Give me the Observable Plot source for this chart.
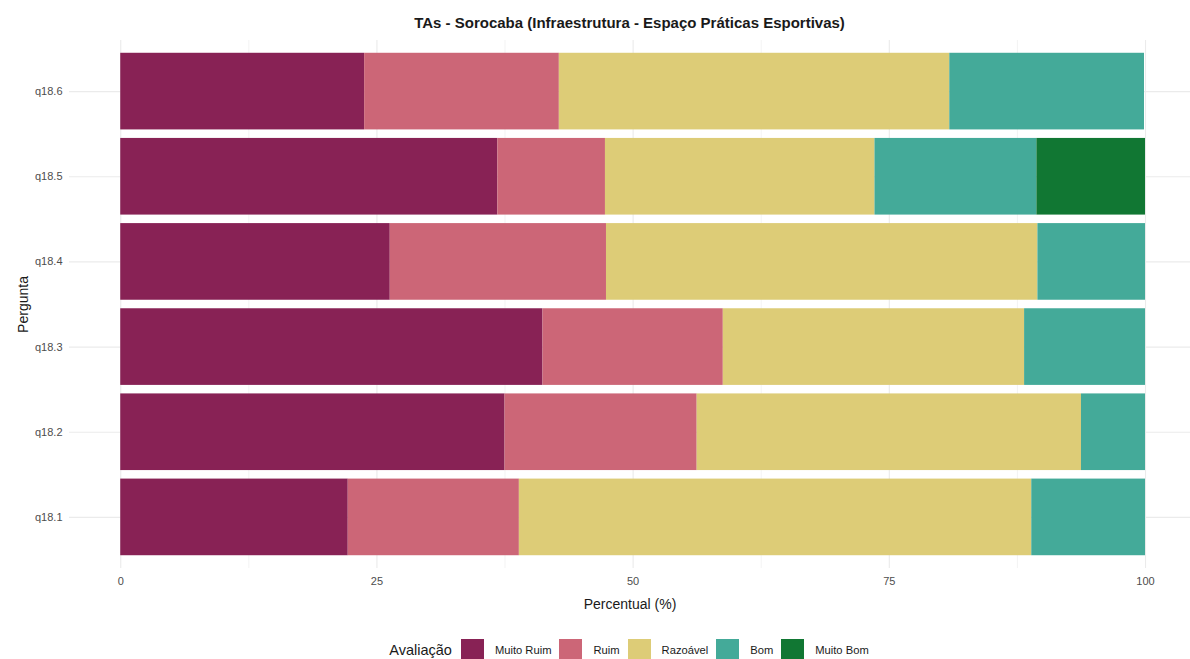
<!DOCTYPE html>
<html>
<head>
<meta charset="utf-8">
<script src="https://cdn.jsdelivr.net/npm/d3@7"></script>
<script src="https://cdn.jsdelivr.net/npm/@observablehq/plot@0.6"></script>
<style>
  html, body { margin:0; padding:0; background:#fff; overflow:hidden; }
  body { width:1190px; height:659px; font-family:"Liberation Sans", Arial, sans-serif; }
  #title { height:40px; box-sizing:border-box; padding-left:69px; text-align:center; font-weight:bold; font-size:15px; line-height:46px; color:#1a1a1a; }
  #chart svg { display:block; font-family:"Liberation Sans", Arial, sans-serif; }
  #chart g[aria-label="y-axis label"] text, #chart g[aria-label="x-axis label"] text { font-size:14px; fill:#1a1a1a; }
  #legend { display:flex; align-items:center; justify-content:center; padding-left:76px; height:74px; font-size:11.2px; color:#1a1a1a; }
  #legend .ttl { font-size:14.5px; margin-right:9px; }
  #legend .sw { width:23px; height:23px; margin-right:11px; }
  #legend .lb { margin-right:8px; }
</style>
</head>
<body>
<div id="title">TAs - Sorocaba (Infraestrutura - Espaço Práticas Esportivas)</div>
<div id="chart"></div>
<div id="legend"></div>
<script>
const perguntas = ["q18.1", "q18.2", "q18.3", "q18.4", "q18.5", "q18.6"];
const categorias = ["Muito Ruim", "Ruim", "Razoável", "Bom", "Muito Bom"];
const cores = ["#882255", "#CC6677", "#DDCC77", "#44AA99", "#117733"];
const muitoRuim = [22.2, 37.5, 41.2, 26.3, 36.8, 23.8];
const ruim      = [16.7, 18.75, 17.6, 21.1, 10.5, 19.0];
const razoavel  = [50.0, 37.5, 29.4, 42.1, 26.3, 38.1];
const bom       = [11.1, 6.25, 11.8, 10.5, 15.8, 19.0];
const muitoBom  = [0, 0, 0, 0, 10.6, 0];
const xTicks = [0, 25, 50, 75, 100];
const xMinor = [12.5, 37.5, 62.5, 87.5];

const series = [muitoRuim, ruim, razoavel, bom, muitoBom];
const data = [];
perguntas.forEach((p, i) => {
  categorias.forEach((c, j) => {
    if (series[j][i] > 0) data.push({pergunta: p, avaliacao: c, valor: series[j][i]});
  });
});

const grid = "#ebebeb";
const chart = Plot.plot({
  width: 1190,
  height: 573,
  marginTop: 0,
  marginLeft: 69,
  marginRight: 0,
  marginBottom: 45,
  style: {fontSize: "11px", fontFamily: "Liberation Sans, Arial, sans-serif"},
  x: {domain: [-5, 104.39], label: null},
  y: {domain: perguntas.slice().reverse(), paddingInner: 0.1, paddingOuter: 0.15, round: false, label: null},
  color: {domain: categorias, range: cores, legend: false},
  marks: [
    Plot.ruleX(xMinor, {stroke: grid, strokeWidth: 0.6}),
    Plot.ruleX(xTicks, {stroke: grid, strokeWidth: 1.1}),
    Plot.gridY({stroke: grid, strokeOpacity: 1, strokeWidth: 1.1}),
    Plot.barX(data, Plot.stackX({x: "valor", y: "pergunta", fill: "avaliacao", order: categorias})),
    Plot.axisY({tickSize: 0, tickPadding: 7, fill: "#4d4d4d", label: "Pergunta", labelAnchor: "center", labelOffset: 51}),
    Plot.axisX({ticks: xTicks, tickSize: 0, tickPadding: 9, fill: "#4d4d4d", label: "Percentual (%)", labelArrow: "none", labelAnchor: "center", labelOffset: 40})
  ]
});
document.getElementById("chart").appendChild(chart);

const legend = document.getElementById("legend");
const t = document.createElement("span");
t.className = "ttl"; t.textContent = "Avaliação";
legend.appendChild(t);
categorias.forEach((c, j) => {
  const s = document.createElement("span");
  s.className = "sw"; s.style.background = cores[j];
  legend.appendChild(s);
  const l = document.createElement("span");
  l.className = "lb"; l.textContent = c;
  legend.appendChild(l);
});
</script>
</body>
</html>
